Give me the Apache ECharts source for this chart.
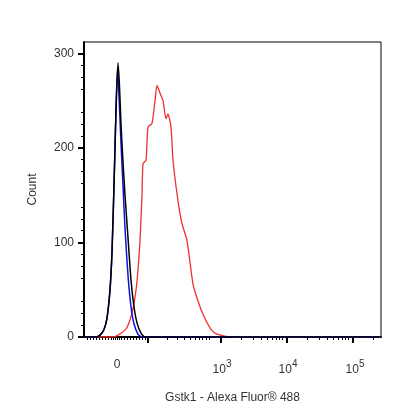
<!DOCTYPE html><html><head><meta charset="utf-8">
<script src="https://cdn.jsdelivr.net/npm/echarts@6/dist/echarts.min.js"></script>
<style>html,body{margin:0;background:#fff}#c{width:416px;height:416px}</style></head><body><div id="c"></div>
<script>
// x in display channel units (0..297), y = count
const blackData = [[0,0],[12,0],[16,2],[20,8],[23,20],[26,50],[28,90],[30,160],[32,240],[34,290],[35.5,265],[37,225],[39,185],[41,150],[44,105],[47,60],[50,32],[53,15],[57,4],[61,0],[297,0]];
const blueData  = [[0,0],[12,0],[16,2],[20,8],[23,20],[26,50],[28,90],[30,160],[32,240],[33.5,285],[35,255],[37,205],[39,160],[41,115],[44,65],[47,32],[50,14],[54,3],[58,0],[297,0]];
const redData   = [[0,0],[29,0],[37,4],[43,10],[49,30],[53,59],[56,102],[58,150],[59,183],[62,187],[64,222],[68,226],[71,250],[73,266],[76,258],[79,250],[82,231],[84,236],[87,222],[89,187],[94,144],[98,120],[103,102],[109,56],[114,38],[119,24],[127,8],[133,3],[146,0],[297,0]];
const majorTicks = [64,137,203,269];
const tickLabelPos = [33,138,204,271];
const tickLabels = ['0','10{s|3}','10{s|4}','10{s|5}'];
const minorTicks = [3,6,9,12,15,18,21,24,27,29,31,33,35,37,40,43,46,49,52,55,58,61,83,93,100,106,111,115,118,122,125,157,169,177,183,188,192,195,198,223,235,243,249,254,258,261,264,289];
const yTicks = [0,100,200,300];
const chart = echarts.init(document.getElementById('c'));
const F = 'Liberation Sans';
chart.setOption({
  animation:false,
  grid:{left:84,right:35,top:42,bottom:79,show:true,borderColor:'#000',borderWidth:1},
  xAxis:[{type:'value',min:0,max:297,name:'Gstk1 - Alexa Fluor® 488',nameLocation:'middle',nameGap:55,
    nameTextStyle:{fontFamily:F,fontSize:12,color:'#333'},
    axisLine:{lineStyle:{color:'#000',width:2}},splitLine:{show:false},
    axisTick:{customValues:majorTicks,length:6,lineStyle:{color:'#000',width:2}},
    axisLabel:{customValues:tickLabelPos,margin:22,fontFamily:F,fontSize:12,color:'#333',
      formatter:v=>tickLabels[tickLabelPos.indexOf(v)],rich:{s:{fontSize:10,verticalAlign:'top',padding:[0,0,12,0],fontFamily:F,color:'#333'}}}},
   {type:'value',min:0,max:297,position:'bottom',axisLine:{show:false},splitLine:{show:false},
    axisTick:{customValues:minorTicks,length:3,lineStyle:{color:'#000'}},axisLabel:{show:false}}],
  yAxis:{type:'value',min:0,max:312,name:'Count',nameLocation:'middle',nameGap:45,
    nameTextStyle:{fontFamily:F,fontSize:12,color:'#333'},
    axisLine:{show:true,lineStyle:{color:'#000',width:2}},splitLine:{show:false},
    axisTick:{show:true,customValues:yTicks,length:6,lineStyle:{width:2}},
    minorTick:{show:true,splitNumber:4,length:3,lineStyle:{color:'#000'}},
    axisLabel:{customValues:yTicks,fontFamily:F,fontSize:12,color:'#333',margin:10}},
  series:[
    {type:'line',data:redData,smooth:0.2,symbol:'none',lineStyle:{color:'#f03030',width:1.3}},
    {type:'line',data:blueData,smooth:0.2,symbol:'none',lineStyle:{color:'#1010e0',width:1.5}},
    {type:'line',data:blackData,smooth:0.2,symbol:'none',lineStyle:{color:'#000',width:1.5}}
  ]
});
</script></body></html>
